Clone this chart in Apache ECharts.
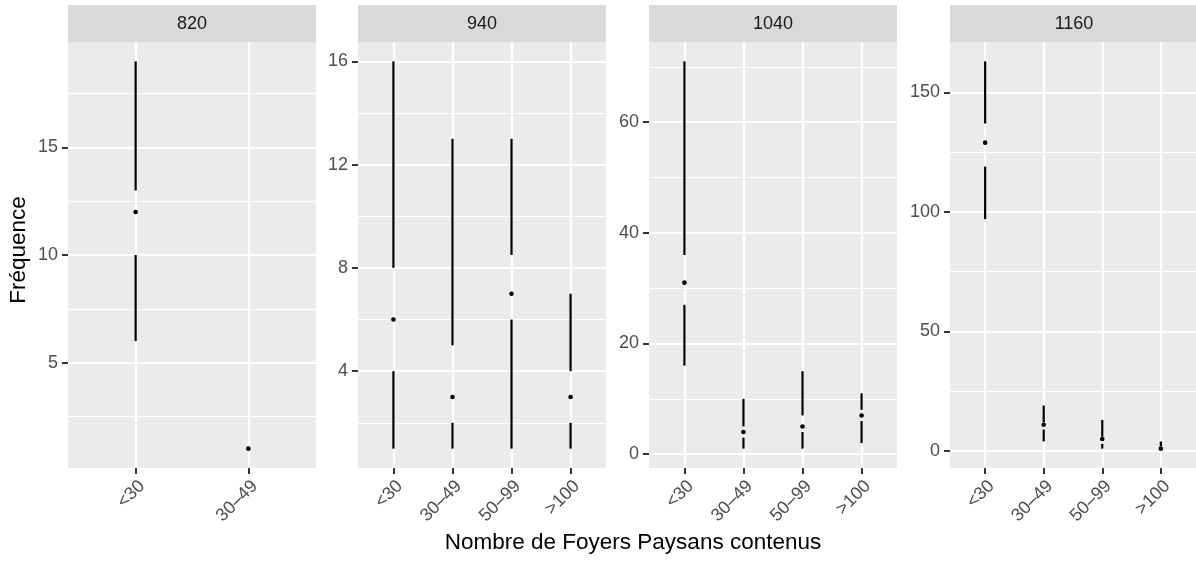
<!DOCTYPE html>
<html>
<head>
<meta charset="utf-8">
<script src="https://cdn.jsdelivr.net/npm/echarts@6/dist/echarts.min.js"></script>
<style>
html,body{margin:0;padding:0;background:#fff;}
#chart{width:1196px;height:561px;}
</style>
</head>
<body>
<div id="chart"></div>
<script>
// ---- data (Tufte box plot stats: [min, Q1, median, Q3, max]) ----
const panelLabels = ['820', '940', '1040', '1160'];
const cats820 = ['<30', '30–49'];
const cats940 = ['<30', '30–49', '50–99', '>100'];
const cats1040 = ['<30', '30–49', '50–99', '>100'];
const cats1160 = ['<30', '30–49', '50–99', '>100'];
const stats820 = [[6, 10, 12, 13, 19], [1, 1, 1, 1, 1]];
const stats940 = [[1, 4, 6, 8, 16], [1, 2, 3, 5, 13], [1, 6, 7, 8.5, 13], [1, 2, 3, 4, 7]];
const stats1040 = [[16, 27, 31, 36, 71], [1, 3, 4, 5, 10], [1, 4, 5, 7, 15], [2, 6, 7, 8, 11]];
const stats1160 = [[97, 119, 129, 137, 163], [4, 9, 11, 12, 19], [1, 3, 5, 6, 13], [1, 1, 1, 2, 4]];
const yTicks820 = [5, 10, 15];
const yTicks940 = [4, 8, 12, 16];
const yTicks1040 = [0, 20, 40, 60];
const yTicks1160 = [0, 50, 100, 150];
const yMinor820 = [2.5, 7.5, 12.5, 17.5];
const yMinor940 = [2, 6, 10, 14];
const yMinor1040 = [10, 30, 50, 70];
const yMinor1160 = [25, 75, 125];
const yTitle = 'Fréquence';
const xTitle = 'Nombre de Foyers Paysans contenus';

// ---- layout ----
const FONT = '"Liberation Sans", Arial, Helvetica, sans-serif';
const panelLefts = [68, 358, 649, 950];
const panelW = 248, panelTop = 42, panelH = 426;
const stripTop = 5, stripH = 37;

const panels = [
  {cats: cats820, stats: stats820, ticks: yTicks820, minor: yMinor820},
  {cats: cats940, stats: stats940, ticks: yTicks940, minor: yMinor940},
  {cats: cats1040, stats: stats1040, ticks: yTicks1040, minor: yMinor1040},
  {cats: cats1160, stats: stats1160, ticks: yTicks1160, minor: yMinor1160}
];

const grids = [], xAxes = [], yAxes = [], series = [], graphics = [];

function renderItem(params, api) {
  const x = api.value(0);
  const pt = k => api.coord([x, api.value(k)]);
  const lo = pt(1), q1 = pt(2), md = pt(3), q3 = pt(4), hi = pt(5);
  const ls = {stroke: '#000', lineWidth: 2.2, lineCap: 'butt'};
  const children = [];
  if (Math.abs(q1[1] - lo[1]) > 0.01) children.push({type: 'line', shape: {x1: lo[0], y1: lo[1], x2: q1[0], y2: q1[1]}, style: ls});
  if (Math.abs(hi[1] - q3[1]) > 0.01) children.push({type: 'line', shape: {x1: q3[0], y1: q3[1], x2: hi[0], y2: hi[1]}, style: ls});
  children.push({type: 'circle', shape: {cx: md[0], cy: md[1], r: 2.3}, style: {fill: '#000'}});
  return {type: 'group', children};
}

panels.forEach((p, i) => {
  const n = p.cats.length;
  let lo = Infinity, hi = -Infinity;
  p.stats.forEach(s => { lo = Math.min(lo, s[0]); hi = Math.max(hi, s[4]); });
  const pad = (hi - lo) * 0.05;
  const ymin = lo - pad, ymax = hi + pad;
  grids.push({left: panelLefts[i], top: panelTop, width: panelW, height: panelH,
    show: true, backgroundColor: '#EBEBEB', borderWidth: 0});
  const idx = p.cats.map((c, k) => k);
  xAxes.push({
    type: 'value', gridIndex: i, min: -0.6, max: n - 0.4, position: 'bottom',
    axisLine: {show: false, onZero: false},
    axisTick: {show: true, customValues: idx, length: 6, lineStyle: {color: '#333333', width: 2}},
    axisLabel: {show: true, customValues: idx, rotate: 45, align: 'right', verticalAlign: 'top', margin: 9,
      fontSize: 18, color: '#4D4D4D', fontFamily: FONT,
      formatter: v => p.cats[Math.round(v)] || ''},
    splitLine: {show: true, lineStyle: {color: '#FFFFFF', width: 2.2}}
  });
  yAxes.push({
    type: 'value', gridIndex: i, min: ymin, max: ymax, position: 'left',
    axisLine: {show: false, onZero: false},
    axisTick: {show: true, customValues: p.ticks, length: 6, lineStyle: {color: '#333333', width: 2}},
    axisLabel: {show: true, customValues: p.ticks, margin: 10, fontSize: 18, color: '#4D4D4D', fontFamily: FONT},
    splitLine: {show: true, lineStyle: {color: '#FFFFFF', width: 2.2}}
  });
  yAxes.push({
    type: 'value', gridIndex: i, min: ymin, max: ymax, position: 'right',
    axisLine: {show: false, onZero: false},
    axisTick: {show: false, customValues: p.minor},
    axisLabel: {show: false, customValues: p.minor},
    splitLine: {show: true, lineStyle: {color: '#FFFFFF', width: 1.1}}
  });
  series.push({
    type: 'custom', xAxisIndex: i, yAxisIndex: 2 * i,
    renderItem: renderItem,
    encode: {x: 0, y: [1, 2, 3, 4, 5]},
    data: p.stats.map((s, k) => [k, s[0], s[1], s[2], s[3], s[4]]),
    z: 10, silent: true
  });
  graphics.push({type: 'rect', left: panelLefts[i], top: stripTop,
    shape: {width: panelW, height: stripH}, style: {fill: '#D9D9D9'}});
  graphics.push({type: 'text', x: panelLefts[i] + panelW / 2, y: stripTop + stripH / 2 + 1,
    style: {text: panelLabels[i], align: 'center', verticalAlign: 'middle', fontSize: 18,
      fill: '#1A1A1A', fontFamily: FONT}});
});

graphics.push({type: 'text', x: 633, y: 543,
  style: {text: xTitle, align: 'center', verticalAlign: 'middle', fontSize: 22.5, fill: '#000', fontFamily: FONT}});
graphics.push({type: 'text', x: 19, y: 250, rotation: Math.PI / 2,
  style: {text: yTitle, align: 'center', verticalAlign: 'middle', fontSize: 22.5, fill: '#000', fontFamily: FONT}});

const chart = echarts.init(document.getElementById('chart'), null, {renderer: 'canvas'});
chart.setOption({
  animation: false,
  backgroundColor: '#FFFFFF',
  grid: grids, xAxis: xAxes, yAxis: yAxes, series: series, graphic: graphics
});
</script>
</body>
</html>
